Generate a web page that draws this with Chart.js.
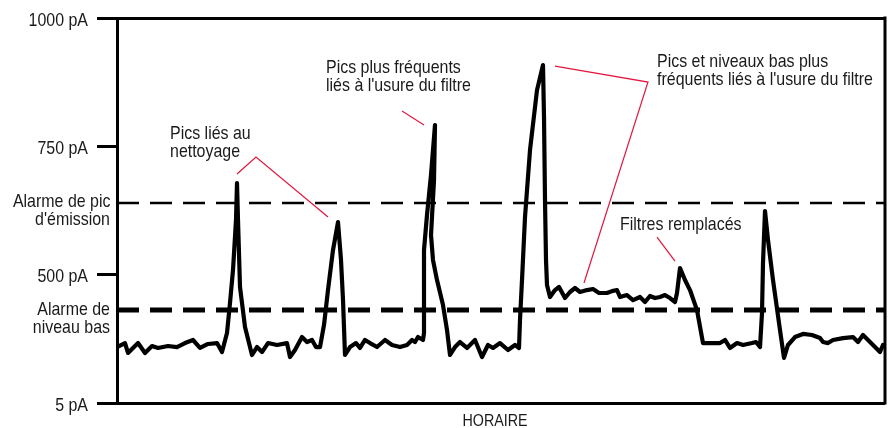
<!DOCTYPE html>
<html lang="fr">
<head>
<meta charset="utf-8">
<script src="https://cdn.jsdelivr.net/npm/chart.js@4.4.0/dist/chart.umd.min.js"></script>
<style>
  html, body { margin: 0; padding: 0; background: #fff; }
  #cadre { width: 894px; height: 428px; }
</style>
</head>
<body>
<div id="cadre"><canvas id="graficoEmission"></canvas></div>
<script>
// Échelle verticale : 0 = 5 pA, 100 = 500 pA, 200 = 750 pA, 300 = 1000 pA
var ticksNiveau = [0, 100, 200, 300]
var ticksLabels = ['5 pA', '500 pA', '750 pA', '1000 pA']

// Seuils d'alarme (même échelle)
var seuilPic = 155.8
var seuilBas = 72.5

// Temps (unités arbitraires) et niveau d'émission
var temps = [0, 8, 11, 16, 21, 28, 35, 41, 51, 60, 68, 76, 83, 91, 100, 105, 110, 113, 116, 119,
    120, 121, 123, 128, 135, 140, 145, 151, 160, 170, 173, 178, 185, 190, 195, 199, 203, 207, 211, 216,
    221, 224, 226, 228, 233, 239, 243, 248, 253, 260, 268, 275, 283, 290, 295, 298, 301, 306, 307, 307,
    310, 314, 318, 317, 314, 316, 320, 326, 330, 333, 338, 343, 350, 358, 365, 371, 376, 383, 391, 398,
    402, 403, 405, 408, 413, 420, 426, 427, 428, 429, 430, 433, 438, 442, 448, 453, 458, 463, 470, 476,
    482, 490, 495, 500, 503, 510, 516, 523, 528, 533, 538, 543, 548, 553, 558, 560, 563, 568, 573, 580,
    586, 593, 603, 608, 613, 620, 626, 635, 639, 643, 645, 646, 648, 651, 656, 663, 667, 671, 678, 686,
    695, 703, 706, 711, 716, 726, 736, 741, 746, 751, 756, 763, 766]
var niveau = [43.6, 46.7, 39.0, 42.9, 46.7, 39.0, 44.4, 42.9, 44.4, 43.6, 46.7, 49.1, 42.9, 46.0, 46.7, 39.7, 54.5, 77.9, 103.6, 142.6,
    171.4, 142.6, 90.4, 59.2, 37.4, 43.6, 39.7, 46.7, 45.2, 46.7, 35.8, 41.3, 51.4, 47.5, 49.1, 43.6, 43.6, 60.8, 88.0, 119.2,
    141.0, 111.4, 80.3, 37.4, 43.6, 46.7, 42.9, 49.1, 46.7, 43.6, 49.1, 45.2, 43.6, 45.2, 49.1, 47.5, 51.4, 49.1, 54.5, 119.2,
    146.5, 177.7, 216.6, 173.7, 130.9, 111.4, 95.8, 76.3, 56.9, 37.4, 43.6, 47.5, 42.9, 49.1, 35.8, 45.2, 42.9, 46.7, 41.3, 45.2,
    42.9, 64.7, 95.8, 144.9, 197.1, 243.8, 263.3, 222.8, 158.1, 111.4, 91.9, 82.6, 88.0, 90.4, 81.8, 86.5, 89.6, 86.5, 88.0, 88.8,
    85.7, 85.7, 87.2, 88.0, 82.6, 84.1, 80.2, 82.6, 78.7, 83.4, 81.8, 82.6, 84.1, 81.8, 78.7, 85.7, 105.2, 95.8, 88.0, 72.4,
    46.7, 46.7, 46.7, 49.1, 42.9, 46.7, 45.2, 46.7, 47.5, 43.6, 70.1, 109.1, 149.6, 127.0, 95.8, 56.9, 35.1, 45.2, 51.4, 53.8,
    53.0, 50.6, 47.5, 46.7, 49.1, 50.6, 51.4, 47.5, 53.0, 49.1, 45.2, 39.7, 45.2]

var tempsMin = 0
var tempsMax = 768

// Annotations : texte + trait rouge (coordonnées dans les unités des axes)
var annotations = [
    { texte: ['Pics liés au', 'nettoyage'], t: 53, v: 209.5,
      trait: [[120, 178.4], [139, 191.6], [211, 144.9]] },
    { texte: ['Pics plus fréquents', "liés à l'usure du filtre"], t: 209, v: 261,
      trait: [[285, 227.5], [307, 216.6]] },
    { texte: ['Pics et niveaux bas plus', "fréquents liés à l'usure du filtre"], t: 540, v: 265.6,
      trait: [[438, 262.5], [531, 250.1], [467, 93.5]] },
    { texte: ['Filtres remplacés'], t: 503, v: 138.7,
      trait: [[540, 129.3], [558, 110.6]] }
]

// Police étroite simulée (Arial Narrow) : Liberation Sans compressée horizontalement
var POLICE = '"Liberation Sans", Arial, sans-serif'
var TAILLE = 19
var ETROIT = 0.84
var COULEUR_TEXTE = '#1a1a1a'
var ROUGE = '#e3173e'
var INTERLIGNE = 18

function points(xs, ys) {
    var res = []
    for (var i = 0; i < xs.length; i++) {
        res.push({ x: xs[i], y: ys[i] })
    }
    return res
}

function texte(ctx, s, x, y, align, taille) {
    ctx.save()
    ctx.font = (taille || TAILLE) + 'px ' + POLICE
    ctx.fillStyle = COULEUR_TEXTE
    ctx.textBaseline = 'middle'
    ctx.textAlign = align
    ctx.translate(x, y)
    ctx.scale(ETROIT, 1)
    ctx.fillText(s, 0, 0)
    ctx.restore()
}

// Plugin : bord droit, graduations, libellés d'alarme, annotations
const pluginDecor = {
    id: 'decor',
    afterDraw(chart) {
        var ctx = chart.ctx
        var sx = chart.scales.x
        var sy = chart.scales.y
        var a = chart.chartArea
        ctx.save()

        // bord droit du cadre
        ctx.strokeStyle = '#000'
        ctx.lineWidth = 3
        ctx.beginPath()
        ctx.moveTo(a.right, a.top - 1.5)
        ctx.lineTo(a.right, a.bottom + 1.5)
        ctx.stroke()

        // libellés des graduations
        sy.ticks.forEach(function (tk) {
            var i = ticksNiveau.indexOf(tk.value)
            if (i >= 0) texte(ctx, ticksLabels[i], a.left - 29, sy.getPixelForValue(tk.value) + 2.5, 'right')
        })

        // libellés des seuils
        var yPic = sy.getPixelForValue(seuilPic)
        texte(ctx, 'Alarme de pic', a.left - 6.5, yPic - 1.5, 'right')
        texte(ctx, "d'émission", a.left - 7, yPic - 1.5 + INTERLIGNE, 'right')
        var yBas = sy.getPixelForValue(seuilBas)
        texte(ctx, 'Alarme de', a.left - 7, yBas, 'right')
        texte(ctx, 'niveau bas', a.left - 7, yBas + INTERLIGNE, 'right')

        // titre de l'axe horizontal
        texte(ctx, 'HORAIRE', (a.left + a.right) / 2 - 6, a.bottom + 18, 'center', 17)

        // annotations
        annotations.forEach(function (an) {
            var x0 = sx.getPixelForValue(an.t)
            var y0 = sy.getPixelForValue(an.v)
            an.texte.forEach(function (ligne, i) {
                texte(ctx, ligne, x0, y0 + i * INTERLIGNE, 'left')
            })
            ctx.strokeStyle = ROUGE
            ctx.lineWidth = 1.2
            ctx.beginPath()
            an.trait.forEach(function (p, i) {
                var px = sx.getPixelForValue(p[0])
                var py = sy.getPixelForValue(p[1])
                if (i == 0) ctx.moveTo(px, py)
                else ctx.lineTo(px, py)
            })
            ctx.stroke()
        })
        ctx.restore()
    }
}

const ctxEmission = document.getElementById('graficoEmission').getContext('2d')
const graficoEmission = new Chart(ctxEmission, {
    type: 'line',
    data: {
        datasets: [{
            label: 'Émission',
            data: points(temps, niveau),
            borderColor: '#000',
            borderWidth: 4.2,
            pointRadius: 0,
            tension: 0,
            borderJoinStyle: 'round',
            borderCapStyle: 'round'
        }, {
            label: "Alarme de pic d'émission",
            data: points([tempsMin, tempsMax], [seuilPic, seuilPic]),
            borderColor: '#000',
            borderWidth: 2.5,
            borderDash: [22, 11],
            pointRadius: 0
        }, {
            label: 'Alarme de niveau bas',
            data: points([tempsMin, tempsMax], [seuilBas, seuilBas]),
            borderColor: '#000',
            borderWidth: 5,
            borderDash: [22, 11],
            pointRadius: 0
        }]
    },
    options: {
        responsive: true,
        maintainAspectRatio: false,
        animation: false,
        layout: { padding: { left: 0, right: 9, top: 18, bottom: 25 } },
        plugins: {
            legend: { display: false },
            tooltip: { enabled: false }
        },
        scales: {
            x: {
                type: 'linear',
                display: false,
                min: tempsMin,
                max: tempsMax
            },
            y: {
                min: 0,
                max: 300,
                afterBuildTicks: function (s) {
                    s.ticks = ticksNiveau.map(function (v) { return { value: v } })
                },
                ticks: { display: false },
                grid: {
                    drawOnChartArea: true,
                    drawTicks: true,
                    color: function (c) {
                        return (c.tick && (c.tick.value == 0 || c.tick.value == 300)) ? '#000' : 'rgba(0,0,0,0)'
                    },
                    tickColor: '#000',
                    tickLength: 20,
                    lineWidth: 3,
                    tickWidth: 3
                },
                border: { display: true, color: '#000', width: 3 },
                afterFit: function (s) { s.width = 117 }
            }
        }
    },
    plugins: [pluginDecor]
})
</script>
</body>
</html>
